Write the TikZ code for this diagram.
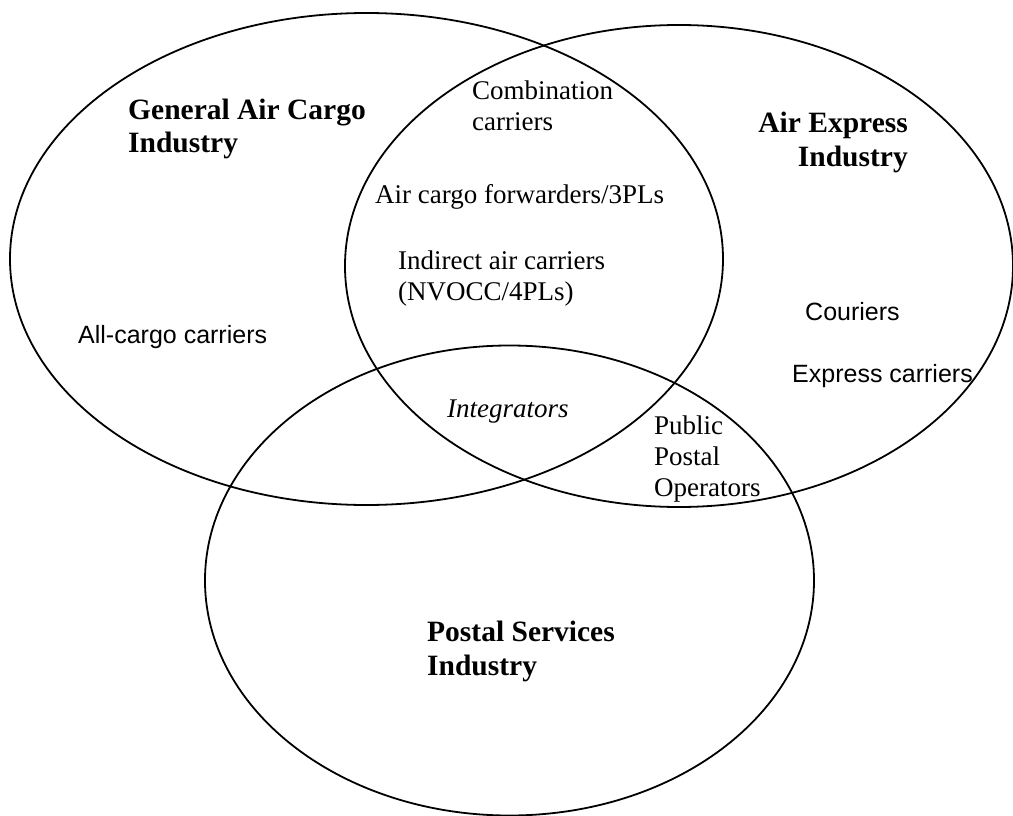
\documentclass[tikz,border=0pt]{standalone}
\usepackage{fontspec}
\setmainfont{Liberation Serif}
\newfontfamily\arialfont{Liberation Sans}

\tikzset{
  venn/.style={line width=1.8pt},
  heading/.style={font=\fontsize{29.5}{34}\selectfont\bfseries, inner sep=0pt},
  member/.style={font=\fontsize{27}{31}\selectfont, inner sep=0pt},
  swiss member/.style={font=\arialfont\fontsize{25}{30}\selectfont, inner sep=0pt}
}

\begin{document}
\begin{tikzpicture}[x=1pt, y=-1pt]
\useasboundingbox (0,0) rectangle (1013,816);
% the three industries
\draw[venn] (366.5,259) ellipse [x radius=356.5, y radius=246];
\draw[venn] (679,266) ellipse [x radius=334, y radius=241];
\draw[venn] (509.5,580.5) ellipse [x radius=304.5, y radius=235];
% headings (base = last line)
\node[heading, anchor=base west, align=left] (cargo) at (128,153) {General Air Cargo\\Industry};
\node[heading, anchor=base east, align=right] (express) at (908,166) {Air Express\\Industry};
\node[heading, anchor=base west, align=left] (postal) at (427,675) {Postal Services\\Industry};
% members
\node[member, anchor=base west, align=left] (combi) at (472,130) {Combination\\carriers};
\node[member, anchor=base west] (fwd) at (375,203) {Air cargo forwarders/3PLs};
\node[member, anchor=base west, align=left] (indirect) at (398,300) {Indirect air carriers\\(NVOCC/4PLs)};
\node[member, anchor=base west] (integ) at (447,417) {\itshape Integrators};
\node[member, anchor=base west, align=left] (ppo) at (654,496) {Public\\Postal\\Operators};
\node[swiss member, anchor=base west] (allcargo) at (78,343) {All-cargo carriers};
\node[swiss member, anchor=base west] (couriers) at (805,320) {Couriers};
\node[swiss member, anchor=base west] (excarr) at (792,382) {Express carriers};
\end{tikzpicture}
\end{document}
